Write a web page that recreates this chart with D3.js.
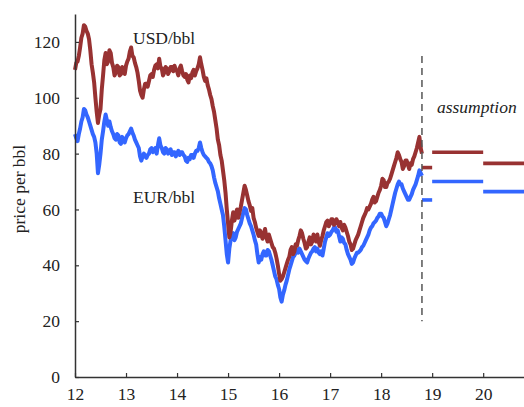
<!DOCTYPE html>
<html>
<head>
<meta charset="utf-8">
<script src="https://cdn.jsdelivr.net/npm/d3@7"></script>
<style>
  html, body { margin: 0; padding: 0; background: #fff; }
  svg { display: block; }
  text { font-family: "Liberation Serif", "Times New Roman", serif; fill: #222; }
</style>
</head>
<body>
<svg id="chart" width="524" height="407"></svg>
<script>
// ---- data ----
const startYear = 12;
const stepYears = 0.025;
const usd = [110,112.5,113,115,118,121.5,123,126,125.5,124,123,121,117,112,109,105.5,100,95,91,94,
  96,103,108,113.5,116,112,113,117,116,112.5,111,108,109,111.5,111,108,108.5,111,110,108.5,
  111.5,113,114,116.5,118,115,114.5,112.5,111,109,106,102.5,101,100,103,105,105,104,106,108,
  108.5,107.5,110,111.5,112,110.5,114,111,110.5,108,109,111,110.5,108.5,109.5,111,111,109.5,111.5,110,
  109.5,108,110.5,111.5,109.5,108,107.5,108.5,106.5,105.5,108,107,109,110,108,109.5,110.5,112,
  114.5,112,110,107.5,106,107,104.5,103,101,99.5,97,95,92,89,85,83,79.5,77.5,74,70.5,
  66,60,55,50,52,56,59,56,58,60,57,59,61,63.5,66,68.5,67,65,63,61.5,
  59.5,60.5,57,55.5,53.5,52,50.5,52.5,51,49.5,51.5,53,50,48.5,51,49.5,48,46.5,46,44.5,
  42.5,40,37,34.5,35,36,37.5,39,40.5,42,43,45.5,46.5,44,45,47.5,47,49,50.5,52.5,
  51.5,49.5,48,46,46.5,48.5,50,47.5,48.5,51,50,48.5,51,48.5,47,49,50.5,52.5,54,55.5,
  56,54,55,56.5,56.5,54.5,55,56.5,55.5,54,55.5,53.5,52.5,54.5,53.5,52,50.5,48.5,47.5,45.5,
  46,47.5,49,50,51,52.5,54,55.5,57,58,59,60.5,60,61,62,63.5,64.5,62.5,63,64.5,
  66,67,68.5,71,70.5,68,68,69.5,70,71,72.5,74,75.5,77,78.5,80.5,79.5,78,77,74.5,
  75.5,77.5,77.5,76,74.5,76.5,76,78,79,80.5,82,84,86,82,80];
const eur = [87,85.5,84.5,87,89,91.5,93,96,95.5,94,93,91.5,90,88.5,87,86,84,80,73,76,
  80,85,88,91.5,94,92,90,91.5,89.5,88,87,85.5,85,87,86.5,84,83.5,86,85,84,
  85.5,86.5,87,88,89,87.5,86.5,85,84,83,82,79,77.5,79,80,79,78.5,79.5,80,81.5,
  82,80.5,81,82,80,83,85.5,83,82,80.5,80,82,81.5,80,80.5,81.5,79.5,80.5,80.5,79,
  80,81,79.5,80.5,80.5,79.5,79,77.5,77,78.5,78,79.5,79.5,78.5,80,81,81,82,84,82,
  80.5,79.5,79,78.5,78,77,76.5,75.5,74,71.5,69.5,68,66.5,64,62,60,58,54,49,44,
  41,46,49,51,51.5,49,50,52,53,54,55,57,59,60.5,60,58,56.5,55,54,52.5,
  51,49,47.5,44,41,43,42,44,45,43.5,43.5,45.5,45,43.5,42,40,38,36,35,33,
  31.5,28.5,27,29.5,31,33,34.5,36.5,38.5,40,41.5,43,43.5,44.5,45.5,44.5,46,45,44,43,
  42,41.5,41,42.5,43.5,44.5,45,46,46.5,45,46,44.5,44,45,43.5,46,48.5,50,51.5,50.5,
  51,52,52.5,53.5,53.5,52,52.5,50.5,48.5,50,49.5,48,47.5,45.5,44,43,42,40.5,41,42.5,
  43.5,44.5,44.5,45,45.5,46.5,47,48,49,50,51,52.5,53.5,54,55,55.5,56,57,57.5,58.5,
  58.5,57.5,57,55.5,54,55,56.5,58,60,62,64,66,67.5,69,70,69,69,67.5,66.5,65.5,
  64.5,63.5,63.5,64.5,65.5,67,68,69,70.5,72,74,73,72];
const assumptionFrom = [18.8, 19, 20];
const assumptionTo = [19, 20, 20.8];
const usdAssumption = [75.0, 80.5, 76.5];
const eurAssumption = [63.4, 70.0, 66.4];
const cutoffYear = 18.8;
const cutoffRange = [20, 115];
const xTicks = [12, 13, 14, 15, 16, 17, 18, 19, 20];
const yTicks = [0, 20, 40, 60, 80, 100, 120];
const seriesLabels = ["USD/bbl", "EUR/bbl"];

// ---- drawing ----
const svg = d3.select("#chart");
const x = d3.scaleLinear().domain([12, 20.8]).range([75, 524]);
const y = d3.scaleLinear().domain([0, 130]).range([377, 14]);
const red = "#983232", blue = "#3366ff";

const timesU = usd.map((_, i) => startYear + i * stepYears);
const timesE = eur.map((_, i) => startYear + i * stepYears);
const lineU = d3.line().x((d, i) => x(timesU[i])).y(d => y(d));
const lineE = d3.line().x((d, i) => x(timesE[i])).y(d => y(d));

svg.append("path").datum(eur).attr("d", lineE)
  .attr("fill", "none").attr("stroke", blue).attr("stroke-width", 4)
  .attr("stroke-linejoin", "round");
svg.append("path").datum(usd).attr("d", lineU)
  .attr("fill", "none").attr("stroke", red).attr("stroke-width", 4)
  .attr("stroke-linejoin", "round");

// assumption segments
[[usdAssumption, red], [eurAssumption, blue]].forEach(([vals, col]) => {
  svg.append("g").selectAll("line").data(vals).join("line")
    .attr("x1", (d, i) => x(assumptionFrom[i]))
    .attr("x2", (d, i) => x(assumptionTo[i]))
    .attr("y1", d => y(d)).attr("y2", d => y(d))
    .attr("stroke", col).attr("stroke-width", 3.6);
});

// cutoff dashed line
svg.append("line")
  .attr("x1", x(cutoffYear)).attr("x2", x(cutoffYear))
  .attr("y1", y(cutoffRange[1])).attr("y2", y(cutoffRange[0]))
  .attr("stroke", "#555").attr("stroke-width", 1.5)
  .attr("stroke-dasharray", "7,5");

// axes
const yAxis = svg.append("g").attr("transform", "translate(75,0)")
  .call(d3.axisLeft(y).tickValues(yTicks).tickSize(-4).tickPadding(15).tickSizeOuter(0));
const xAxis = svg.append("g").attr("transform", "translate(0,377)")
  .call(d3.axisBottom(x).tickValues(xTicks).tickSize(-4).tickPadding(11).tickSizeOuter(0));
[yAxis, xAxis].forEach(g => {
  g.select(".domain").attr("stroke", "#333").attr("stroke-width", 1.5);
  g.selectAll(".tick line").attr("stroke", "#333").attr("stroke-width", 1.2);
  g.selectAll(".tick text").attr("font-size", 17.5).attr("fill", "#222");
});

// labels
svg.append("text").attr("x", 133).attr("y", 44).attr("font-size", 17.5).text(seriesLabels[0]);
svg.append("text").attr("x", 133).attr("y", 203).attr("font-size", 17.5).text(seriesLabels[1]);
svg.append("text").attr("x", 437).attr("y", 113).attr("font-size", 17.5)
  .attr("font-style", "italic").text("assumption");
svg.append("text").attr("transform", "translate(25,189) rotate(-90)")
  .attr("text-anchor", "middle").attr("font-size", 17.5).text("price per bbl");
</script>
</body>
</html>
